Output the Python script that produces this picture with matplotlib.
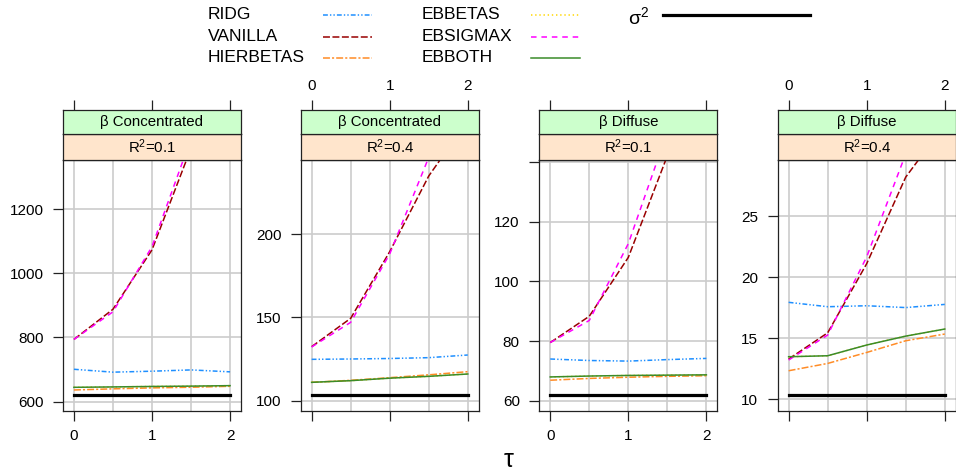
import matplotlib
matplotlib.use('Agg')
import matplotlib.pyplot as plt
from matplotlib.lines import Line2D

plt.rcParams['font.family'] = ['Liberation Sans', 'DejaVu Sans']
plt.rcParams['mathtext.fontset'] = 'custom'
plt.rcParams['mathtext.rm'] = 'Liberation Sans'
plt.rcParams['mathtext.it'] = 'Liberation Sans'
plt.rcParams['lines.scale_dashes'] = False

# ---------------- data ----------------
tau = [0, 0.5, 1, 1.5, 2]
panel_beta = ['β Concentrated', 'β Concentrated', 'β Diffuse', 'β Diffuse']
panel_r2 = ['0.1', '0.4', '0.1', '0.4']

sigma2 = [621, 103.4, 61.9, 10.33]
ridg = [[701, 692, 695, 699, 693],
        [124.8, 125.0, 125.3, 125.8, 127.4],
        [74.0, 73.5, 73.3, 73.8, 74.2],
        [17.93, 17.57, 17.65, 17.5, 17.76]]
vanilla = [[794, 888, 1073, 1390, 1800],
           [132.4, 149.4, 189.4, 234.8, 268],
           [79.5, 88.3, 108.0, 142, 180],
           [13.28, 15.43, 21.1, 28.2, 32.5]]
ebsigmax = [[794, 880, 1083, 1420, 1900],
            [132.2, 147, 188, 246, 300],
            [79.5, 86.9, 112.6, 150, 195],
            [13.2, 15.25, 21.66, 30.1, 38]]
hierbetas = [[636.5, 640, 643, 645, 648],
             [111, 112.2, 113.8, 115.5, 117.4],
             [66.9, 67.5, 67.9, 68.2, 68.4],
             [12.32, 12.92, 13.82, 14.78, 15.33]]
ebbetas = [[644.8, 646, 647.5, 648.5, 650],
           [111, 112, 113.5, 114.6, 116.0],
           [68.0, 68.3, 68.5, 68.6, 68.7],
           [13.47, 13.55, 14.43, 15.16, 15.74]]
ebboth = [[644.8, 646, 647.5, 648.5, 650],
          [111, 112, 113.5, 114.6, 116.0],
          [68.0, 68.3, 68.5, 68.6, 68.7],
          [13.47, 13.55, 14.43, 15.16, 15.74]]

yticks = [[600, 800, 1000, 1200], [100, 150, 200], [60, 80, 100, 120, 140], [10, 15, 20, 25]]
ytick_labels = [['600', '800', '1000', '1200'], ['100', '150', '200'],
                ['60', '80', '100', '120', ''], ['10', '15', '20', '25']]
ylims = [(571, 1353), (93.8, 244.4), (56.6, 140.6), (9.02, 29.6)]
xticks = [0, 1, 2]
xgrid = [0, 0.5, 1, 1.5, 2]

series_names = ['RIDG', 'VANILLA', 'HIERBETAS', 'EBBETAS', 'EBSIGMAX', 'EBBOTH']
series_data = [ridg, vanilla, hierbetas, ebbetas, ebsigmax, ebboth]
series_colors = ['#1E8FFF', '#990000', '#FF8C26', '#FFD700', '#FF00FF', '#3A8B2A']
series_dash = [(0, (3.5, 1.5, 1, 1.5, 1, 1.5)), (0, (5, 1.8)), (0, (5, 1.5, 1.5, 1.5)),
               (0, (1, 2)), (0, (4, 3.5)), '-']

# ---------------- layout ----------------
W, H = 956, 472
fig = plt.figure(figsize=(W / 100, H / 100), dpi=100)

def fx(x):
    return x / W

def fy(y):
    return 1 - y / H

lefts = [63, 300.7, 539.3, 777.7]
pw = 178
y_top_strip, y_mid_strip, y_data_top, y_data_bot = 110, 134, 160, 411
strip_green = '#CCFFCC'
strip_peach = '#FFE5CC'
grid_col = '#CCCCCC'
frame_col = '#222222'
tick_fs = 11

for i in range(4):
    l = lefts[i]
    ax = fig.add_axes([fx(l), fy(y_data_bot), pw / W, (y_data_bot - y_data_top) / H])
    ax.set_xlim(-0.14, 2.14)
    ax.set_ylim(*ylims[i])
    for g in xgrid:
        ax.axvline(g, color=grid_col, lw=1.2, zorder=0)
    for t in yticks[i]:
        ax.axhline(t, color=grid_col, lw=1.2, zorder=0)
    ax.plot(tau, [sigma2[i]] * len(tau), color='black', lw=2.3, zorder=2)
    for name, data, c, d in zip(series_names, series_data, series_colors, series_dash):
        ax.plot(tau, data[i], color=c, lw=1.1, linestyle=d, zorder=3)
    ax.set_yticks(yticks[i])
    ax.set_yticklabels(ytick_labels[i])
    ax.set_xticks(xticks)
    ax.tick_params(axis='y', direction='out', length=7, width=0.9, pad=7, labelsize=tick_fs,
                   colors=frame_col, labelcolor='black')
    ax.tick_params(axis='x', direction='out', length=7, width=0.9, pad=6, labelsize=tick_fs,
                   labelbottom=(i % 2 == 0), colors=frame_col, labelcolor='black')
    for s in ax.spines.values():
        s.set_linewidth(0.9)
        s.set_color(frame_col)

    # R^2 strip
    s2 = fig.add_axes([fx(l), fy(y_data_top), pw / W, (y_data_top - y_mid_strip) / H])
    s2.set_facecolor(strip_peach)
    s2.set_xticks([]); s2.set_yticks([])
    s2.text(0.5, 0.5, r'R$^{2}$=' + panel_r2[i], ha='center', va='center', fontsize=10.8,
            transform=s2.transAxes)
    for s in s2.spines.values():
        s.set_linewidth(0.9)
        s.set_color(frame_col)

    # beta strip with top ticks
    s1 = fig.add_axes([fx(l), fy(y_mid_strip), pw / W, (y_mid_strip - y_top_strip) / H])
    s1.set_facecolor(strip_green)
    s1.set_xlim(-0.14, 2.14)
    s1.set_yticks([])
    s1.set_xticks(xticks)
    s1.xaxis.tick_top()
    s1.tick_params(axis='x', direction='out', length=7, width=0.9, pad=5, labelsize=tick_fs,
                   labeltop=(i % 2 == 1), bottom=False, labelbottom=False,
                   colors=frame_col, labelcolor='black')
    s1.text(0.5, 0.5, panel_beta[i], ha='center', va='center', fontsize=10.8,
            transform=s1.transAxes)
    for s in s1.spines.values():
        s.set_linewidth(0.9)
        s.set_color(frame_col)

fig.text(fx(509), fy(460), 'τ', ha='center', va='center', fontsize=18)

# ---------------- legend ----------------
rows = [14.5, 36.5, 58]
col_text_x = [208, 422]
col_line_x = [(323, 372), (531, 580)]
for k, (name, c, d) in enumerate(zip(series_names, series_colors, series_dash)):
    col, row = divmod(k, 3)
    y = rows[row]
    fig.text(fx(col_text_x[col]), fy(y), name, ha='left', va='center', fontsize=12.5)
    x1, x2 = col_line_x[col]
    fig.add_artist(Line2D([fx(x1), fx(x2)], [fy(y), fy(y)], color=c, lw=1.1, linestyle=d,
                          transform=fig.transFigure))
fig.text(fx(628), fy(rows[0] + 3), r'$\sigma^{2}$', ha='left', va='center', fontsize=14)
fig.add_artist(Line2D([fx(663), fx(810)], [fy(rows[0]), fy(rows[0])], color='black', lw=2.3,
                      transform=fig.transFigure))

fig.savefig('out.png', dpi=100)
